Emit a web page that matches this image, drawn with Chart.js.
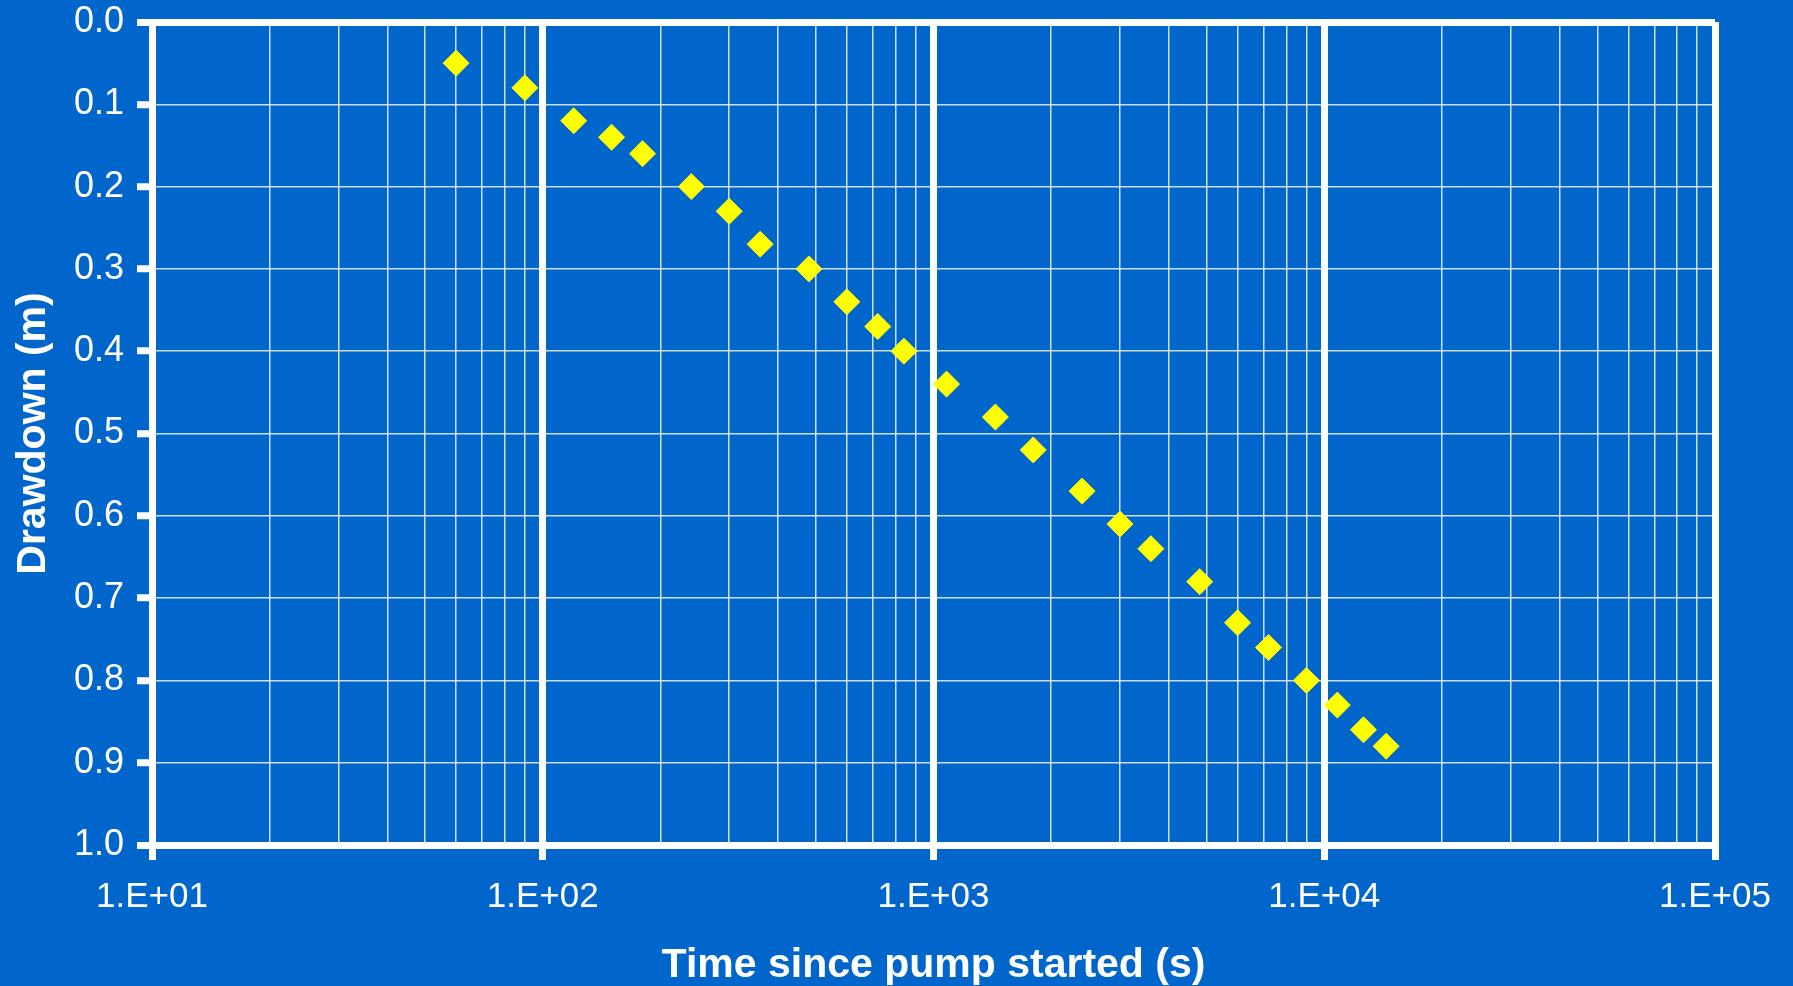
<!DOCTYPE html>
<html lang="en">
<head>
  <meta charset="UTF-8">
  <title>Drawdown vs Time</title>
  <script src="https://cdn.jsdelivr.net/npm/chart.js"></script>
  <style>
    html, body { margin: 0; padding: 0; background: #0066CC; }
    canvas { display: block; }
  </style>
</head>
<body>

<canvas id="drawdownChart" width="1793" height="986"></canvas>

<script>
  // pumping test readings
  const times = [60, 90, 120, 150, 180, 240, 300, 360, 480, 600, 720, 840, 1080, 1440, 1800,
                 2400, 3000, 3600, 4800, 6000, 7200, 9000, 10800, 12600, 14400];
  const drawdown = [0.05, 0.08, 0.12, 0.14, 0.16, 0.20, 0.23, 0.27, 0.30, 0.34, 0.37, 0.40, 0.44,
                    0.48, 0.52, 0.57, 0.61, 0.64, 0.68, 0.73, 0.76, 0.80, 0.83, 0.86, 0.88];

  // decade ticks on the time axis and their labels
  const xDecades = [10, 100, 1000, 10000, 100000];
  const xTickLabels = ['1.E+01', '1.E+02', '1.E+03', '1.E+04', '1.E+05'];

  const white = '#FFFFFF';
  const thin = 'rgba(255, 255, 255, 0.8)';

  Chart.defaults.font.family = "'Liberation Sans', Arial, sans-serif";
  Chart.defaults.color = white;

  const points = times.map((t, i) => ({ x: t, y: drawdown[i] }));

  const isDecade = v => xDecades.indexOf(v) !== -1;

  const ctx = document.getElementById('drawdownChart').getContext('2d');

  const drawdownChart = new Chart(ctx, {
    type: 'scatter',
    data: {
      datasets: [{
        label: 'Drawdown',
        data: points,
        pointStyle: 'rectRot',
        pointRadius: 13,
        pointHoverRadius: 13,
        backgroundColor: '#FFFF00',
        borderColor: '#FFFF00',
        borderWidth: 1,
        showLine: false
      }]
    },
    options: {
      responsive: false,
      animation: false,
      layout: {
        padding: { top: 22, right: 78, left: 0, bottom: 0 }
      },
      plugins: {
        legend: { display: false },
        tooltip: { enabled: false }
      },
      scales: {
        x: {
          type: 'logarithmic',
          min: xDecades[0],
          max: xDecades[xDecades.length - 1],
          afterBuildTicks: function (scale) {
            const ticks = [];
            for (let i = 0; i < xDecades.length - 1; i++) {
              for (let m = 1; m < 10; m++) {
                ticks.push({ value: xDecades[i] * m });
              }
            }
            ticks.push({ value: xDecades[xDecades.length - 1] });
            scale.ticks = ticks;
          },
          afterFit: function (scale) {
            scale.height = 141;
            scale.paddingLeft = 0;
            scale.paddingRight = 0;
          },
          ticks: {
            autoSkip: false,
            maxRotation: 0,
            minRotation: 0,
            padding: 16,
            font: { size: 35 },
            callback: function (value) {
              const idx = xDecades.indexOf(value);
              return idx === -1 ? '' : xTickLabels[idx];
            }
          },
          grid: {
            color: c => isDecade(c.tick.value) ? white : thin,
            lineWidth: c => isDecade(c.tick.value) ? 7 : 1.5,
            drawTicks: true,
            tickLength: 15,
            tickWidth: 7,
            tickColor: c => isDecade(c.tick.value) ? white : 'rgba(0,0,0,0)'
          },
          border: { display: true, color: white, width: 7 },
          title: {
            display: true,
            text: 'Time since pump started (s)',
            font: { size: 41, weight: 'bold', lineHeight: 1.0 },
            padding: { top: 0, bottom: 0 }
          }
        },
        y: {
          reverse: true,
          min: 0,
          max: 1,
          afterFit: function (scale) {
            scale.width = 152;
            scale.paddingTop = 0;
            scale.paddingBottom = 0;
          },
          ticks: {
            stepSize: 0.1,
            padding: 13,
            font: { size: 36 },
            callback: value => value.toFixed(1)
          },
          grid: {
            color: c => (c.index === 0 || c.index === 10) ? white : thin,
            lineWidth: c => (c.index === 0 || c.index === 10) ? 7 : 1.5,
            drawTicks: true,
            tickLength: 15,
            tickWidth: 7,
            tickColor: white
          },
          border: { display: true, color: white, width: 7 },
          title: {
            display: true,
            text: 'Drawdown (m)',
            font: { size: 41, weight: 'bold' },
            padding: { top: 9, bottom: 0 }
          }
        }
      }
    }
  });
</script>

</body>
</html>
